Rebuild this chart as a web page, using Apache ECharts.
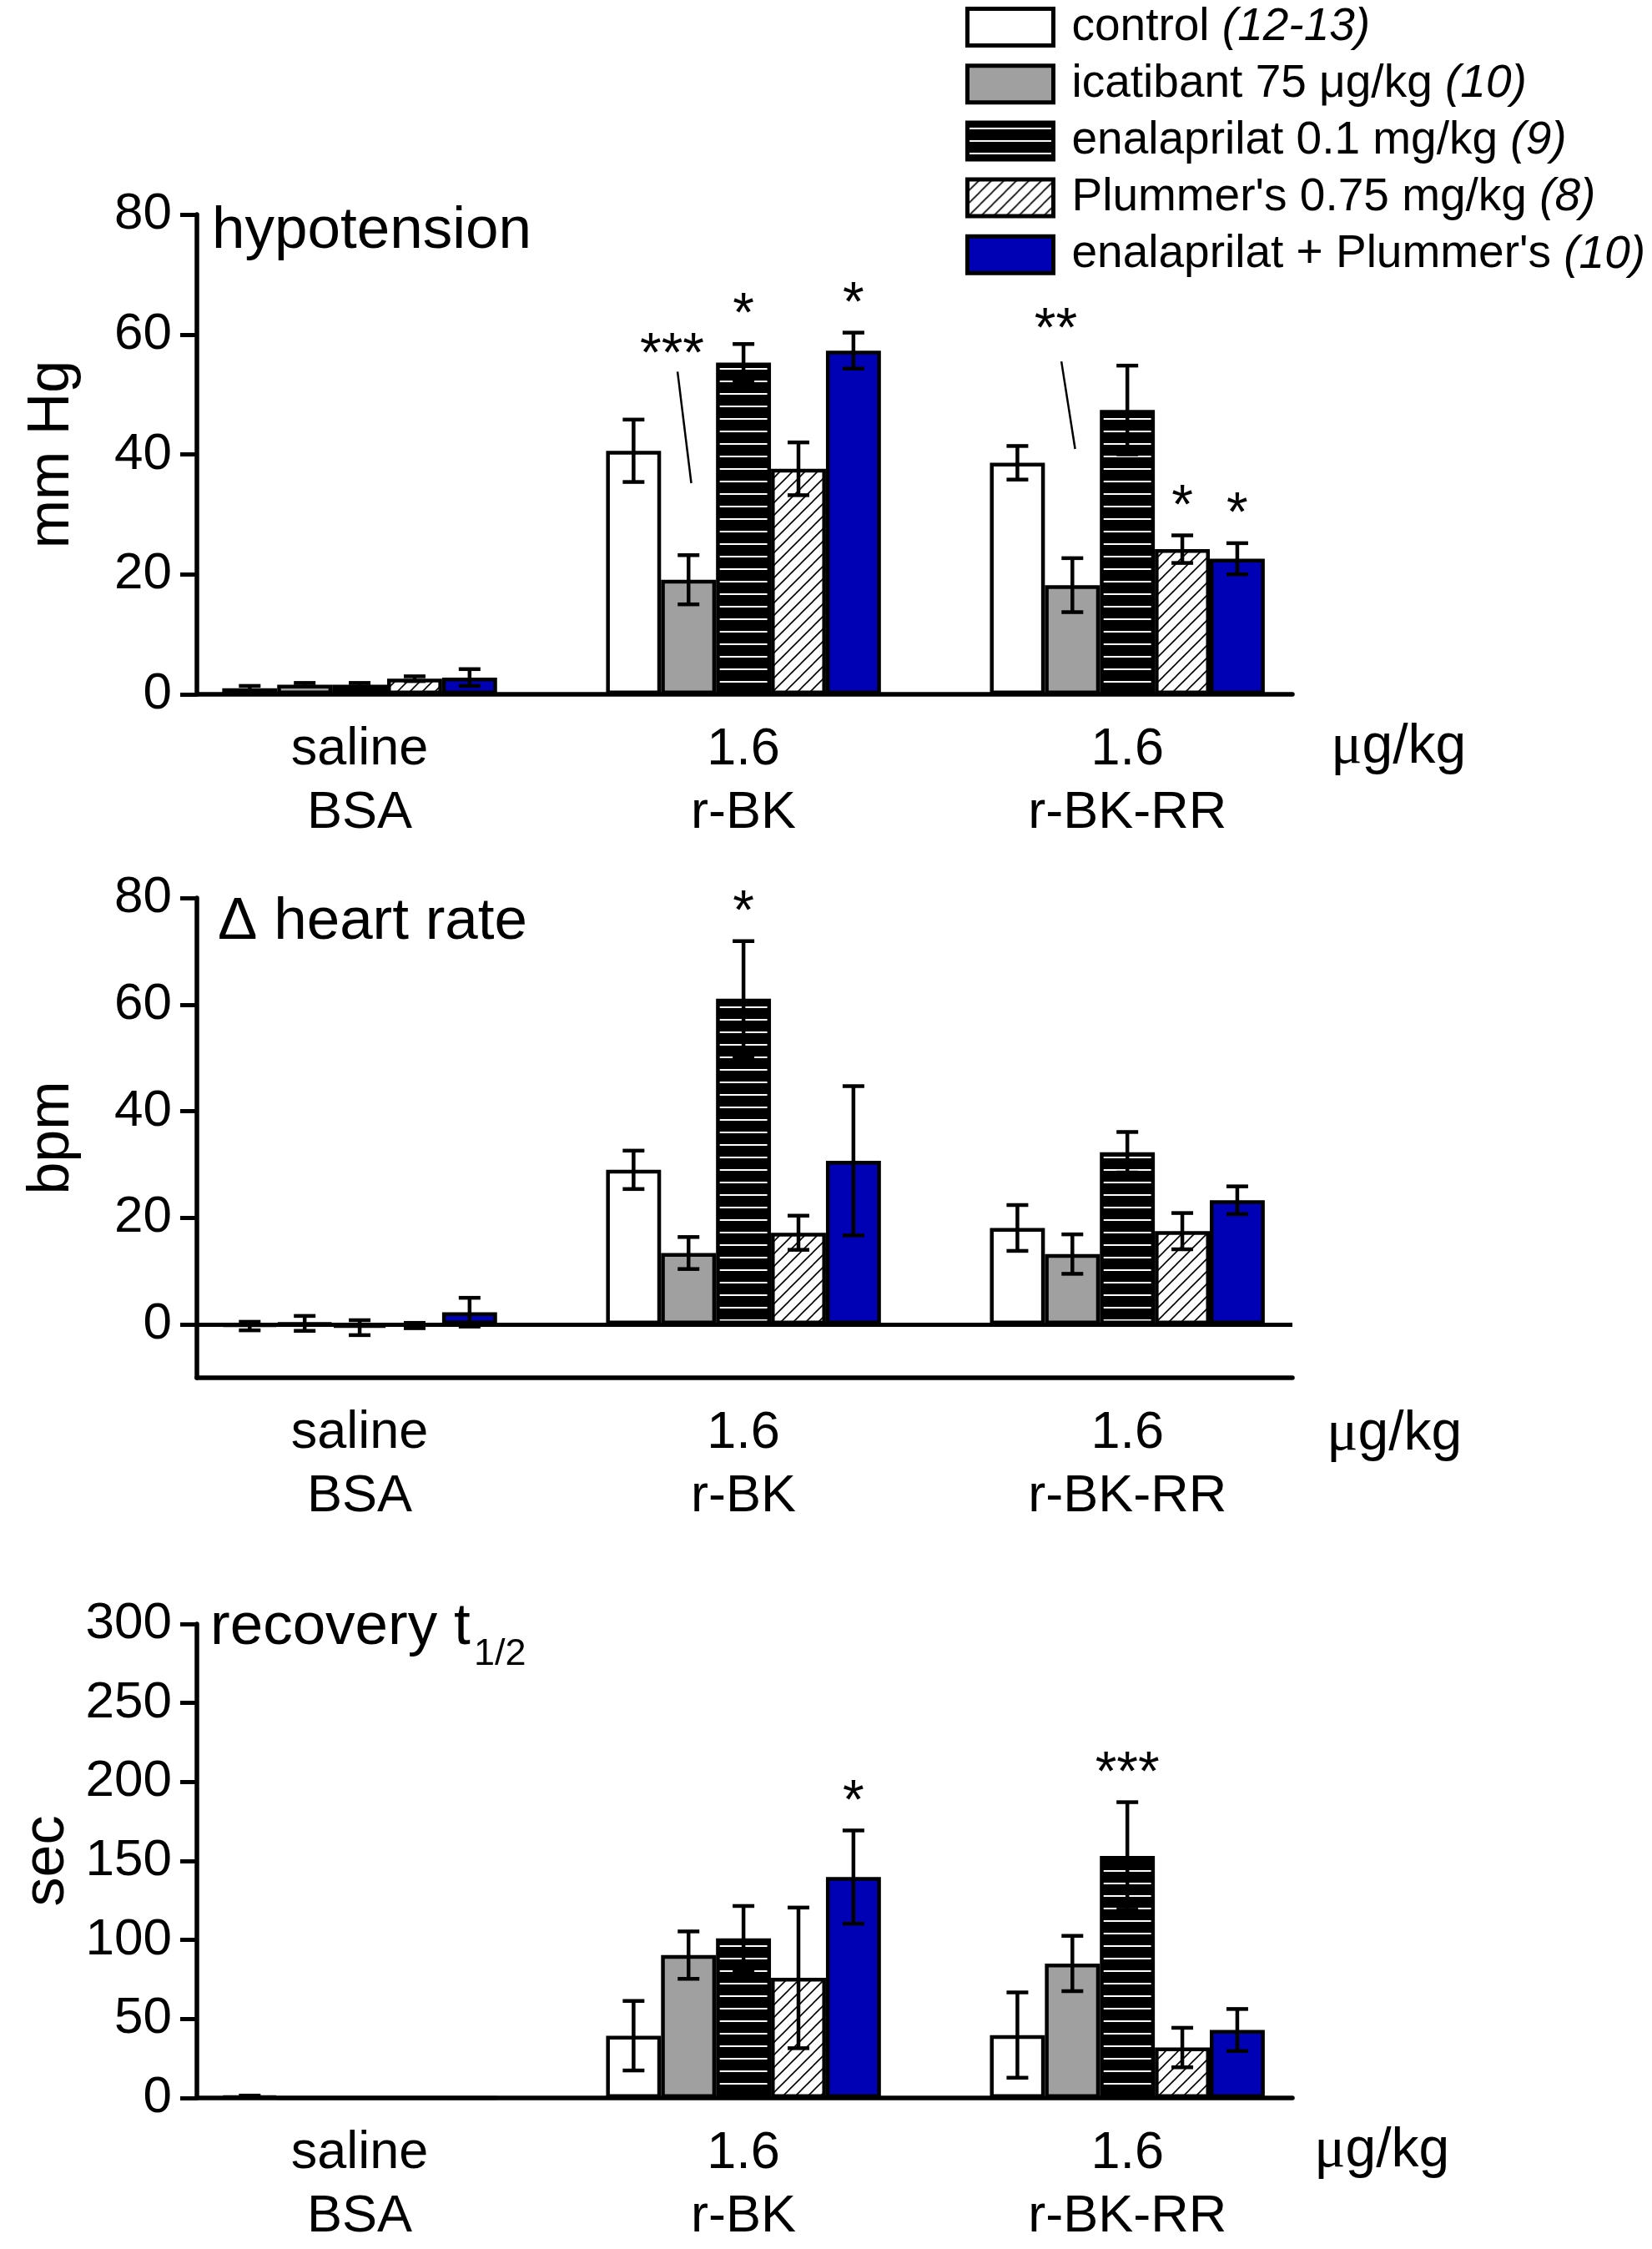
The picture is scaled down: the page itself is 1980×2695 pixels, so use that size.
<!DOCTYPE html>
<html>
<head>
<meta charset="utf-8">
<script src="https://cdn.jsdelivr.net/npm/echarts@6/dist/echarts.min.js"></script>
<style>
  html, body { margin: 0; padding: 0; background: #fff; }
  #main { width: 1980px; height: 2695px; }
</style>
</head>
<body>
<div id="main"></div>
<script>
    var doses = ['saline', '1.6', '1.6'];
    var agents = ['BSA', 'r-BK', 'r-BK-RR'];
    var treatments = ['control', 'icatibant 75 μg/kg', 'enalaprilat 0.1 mg/kg', "Plummer's 0.75 mg/kg", "enalaprilat + Plummer's"];
    var counts = ['(12-13)', '(10)', '(9)', '(8)', '(10)'];

    // one row per treatment: [saline/BSA, r-BK, r-BK-RR]
    var hypoMean = [[1.0, 40.6, 38.6], [1.6, 19.1, 18.2], [1.6, 55.3, 47.4], [2.6, 37.6, 24.2], [2.8, 57.3, 22.6]];
    var hypoSem  = [[0.4, 5.2, 2.8], [0.3, 4.1, 4.5], [0.3, 3.1, 7.4], [0.4, 4.4, 2.3], [1.4, 3.0, 2.6]];
    var hrMean   = [[-0.3, 29.0, 18.1], [0.2, 13.4, 13.2], [-0.6, 61.1, 32.3], [-0.2, 17.2, 17.5], [2.3, 30.7, 23.3]];
    var hrSem    = [[0.8, 3.6, 4.3], [1.4, 3.0, 3.7], [1.4, 10.8, 3.8], [0.5, 3.2, 3.4], [2.7, 14.0, 2.6]];
    var recMean  = [[1.0, 39.4, 39.8], [0, 90.4, 85.1], [0, 101.0, 153.2], [0, 76.0, 31.9], [0, 139.8, 43.0]];
    var recSem   = [[0.5, 22.0, 27.0], [0, 15.0, 17.5], [0, 20.5, 34.0], [0, 44.5, 12.5], [0, 29.5, 13.3]];

    // stars: [group, treatment, text]
    var hypoStars = [[1, 2, '*'], [1, 4, '*'], [2, 3, '*'], [2, 4, '*']];
    // stars joined to a bar by a line: [group, treatment, text, star y, line top y, line bottom y]
    var hypoLinked = [[1, 1, '***', 58.4, 53.8, 35.2], [2, 1, '**', 62.6, 55.5, 40.9]];
    var hrStars = [[1, 2, '*']];
    var recStars = [[1, 4, '*'], [2, 2, '***']];

    var FONT = "'Liberation Sans', Arial, sans-serif";
    var GAP = 0.284;

    function stripes() {
        var c = document.createElement('canvas');
        c.width = 8; c.height = 15;
        var x = c.getContext('2d');
        x.fillStyle = '#000'; x.fillRect(0, 0, 8, 15);
        x.fillStyle = '#fff'; x.fillRect(0, 6, 8, 2);
        return c;
    }
    function hatch() {
        var n = 15;
        var c = document.createElement('canvas');
        c.width = n; c.height = n;
        var x = c.getContext('2d');
        x.fillStyle = '#fff'; x.fillRect(0, 0, n, n);
        x.strokeStyle = '#000'; x.lineWidth = 1.6;
        x.beginPath();
        x.moveTo(0, n); x.lineTo(n, 0);
        x.moveTo(-n / 2, n / 2); x.lineTo(n / 2, -n / 2);
        x.moveTo(n / 2, n * 1.5); x.lineTo(n * 1.5, n / 2);
        x.stroke();
        return c;
    }
    var fills = ['#ffffff', '#a0a0a0', { image: stripes(), repeat: 'repeat' }, { image: hatch(), repeat: 'repeat' }, '#0000b4'];

    var panels = [
        { mean: hypoMean, sem: hypoSem, stars: hypoStars, linked: hypoLinked, top: 257, h: 575,
          min: 0, max: 80, interval: 20, name: 'mm Hg', title: 'hypotension', tleft: 254, ttop: 242, unitGap: 46, unitPad: 128 },
        { mean: hrMean, sem: hrSem, stars: hrStars, linked: [], top: 1076, h: 575,
          min: -10, max: 80, ticks: [0, 20, 40, 60, 80], name: 'bpm', title: 'Δ heart rate', tleft: 261, ttop: 1070, unitGap: 41, unitPad: 136 },
        { mean: recMean, sem: recSem, stars: recStars, linked: [], top: 1946, h: 577,
          min: 0, max: 300, interval: 50, name: 'sec', title: 'recovery t', sub: '1/2', tleft: 252, ttop: 1915, unitGap: 26, unitPad: 128 }
    ];

    function barWidthPx(api) {
        return api.size([1, 0])[0] * (1 - GAP) / 5;
    }

    function errorItem(params, api) {
        var g = api.value(0), m = api.value(1), e = api.value(2), s = api.value(3);
        if (!e) return;
        var bw = barWidthPx(api);
        var cx = api.coord([g, m])[0] + (s - 2) * bw;
        var yHi = api.coord([g, m + e])[1];
        var yLo = api.coord([g, m - e])[1];
        var cap = 13;
        var st = { stroke: '#000', lineWidth: 4.5 };
        return {
            type: 'group',
            children: [
                { type: 'line', shape: { x1: cx, y1: yHi, x2: cx, y2: yLo }, style: st },
                { type: 'line', shape: { x1: cx - cap, y1: yHi, x2: cx + cap, y2: yHi }, style: st },
                { type: 'line', shape: { x1: cx - cap, y1: yLo, x2: cx + cap, y2: yLo }, style: st }
            ]
        };
    }

    function starRenderer(stars) {
        return function (params, api) {
            var r = stars[params.dataIndex];
            var bw = barWidthPx(api);
            var p = api.coord([api.value(0), api.value(1)]);
            return {
                type: 'text',
                x: p[0] + (r[1] - 2) * bw,
                y: p[1],
                style: { text: r[2], fontSize: 66, fontFamily: FONT, fill: '#000', align: 'center', verticalAlign: 'bottom' }
            };
        };
    }

    function linkedRenderer(linked) {
        return function (params, api) {
            var r = linked[params.dataIndex];
            var bw = barWidthPx(api);
            var cx = api.coord([r[0], 0])[0] + (r[1] - 2) * bw;
            var yText = api.coord([r[0], r[3]])[1];
            var yTop = api.coord([r[0], r[4]])[1];
            var yBot = api.coord([r[0], r[5]])[1];
            return {
                type: 'group',
                children: [
                    { type: 'line', shape: { x1: cx - 0.2 * bw, y1: yTop, x2: cx + 0.05 * bw, y2: yBot }, style: { stroke: '#000', lineWidth: 2.5 } },
                    { type: 'text', x: cx - 0.3 * bw, y: yText + 15,
                      style: { text: r[2], fontSize: 66, fontFamily: FONT, fill: '#000', align: 'center', verticalAlign: 'middle' } }
                ]
            };
        };
    }

    var grid = [], xAxis = [], yAxis = [], series = [], title = [];

    panels.forEach(function (pn, p) {
        grid.push({ left: 236, width: 1313, top: pn.top, height: pn.h });
        title.push({
            text: pn.title, left: pn.tleft, top: pn.ttop, padding: 0,
            textStyle: { fontSize: 71, lineHeight: 71, fontWeight: 'normal', fontFamily: FONT, color: '#000' }
        });
        if (pn.sub) {
            title.push({
                text: pn.sub, left: 568, top: pn.ttop + 45, padding: 0,
                textStyle: { fontSize: 45, lineHeight: 45, fontWeight: 'normal', fontFamily: FONT, color: '#000' }
            });
        }
        xAxis.push({
            type: 'value', gridIndex: p, min: -0.424, max: 2.43,
            axisLine: { onZero: false, lineStyle: { color: '#000', width: 5.5 } },
            axisTick: { show: false },
            splitLine: { show: false },
            axisLabel: {
                customValues: [0, 1, 2],
                margin: 29,
                fontSize: 63, fontFamily: FONT, color: '#000', lineHeight: 76,
                formatter: function (v) { return doses[v] + '\n' + agents[v]; }
            },
            name: '{mu|μ}g/kg', nameLocation: 'end', nameGap: pn.unitGap,
            nameTextStyle: {
                fontSize: 66, fontFamily: FONT, color: '#000', align: 'left', verticalAlign: 'middle',
                padding: [pn.unitPad, 0, 0, 0],
                rich: { mu: { fontSize: 70, fontFamily: "'Liberation Serif', serif", color: '#000' } }
            }
        });
        var ya = {
            type: 'value', gridIndex: p, min: pn.min, max: pn.max,
            axisLine: { show: true, onZero: false, lineStyle: { color: '#000', width: 5.5 } },
            axisTick: { show: true, length: 20, lineStyle: { color: '#000', width: 5 } },
            splitLine: { show: false },
            axisLabel: { margin: 30, fontSize: 62, fontFamily: FONT, color: '#000' },
            name: pn.name, nameLocation: 'middle', nameGap: 138,
            nameTextStyle: { fontSize: 70, fontFamily: FONT, color: '#000' }
        };
        if (pn.ticks) {
            ya.axisLabel.customValues = pn.ticks;
            ya.axisTick.customValues = pn.ticks;
        } else {
            ya.interval = pn.interval;
        }
        yAxis.push(ya);

        treatments.forEach(function (name, t) {
            var s = {
                name: name, type: 'bar', xAxisIndex: p, yAxisIndex: p,
                barGap: '0%', barCategoryGap: (GAP * 100) + '%',
                data: [0, 1, 2].map(function (g) { return [g, pn.mean[t][g]]; }),
                itemStyle: { color: fills[t], borderColor: '#000', borderWidth: 4.5 },
                emphasis: { disabled: true }
            };
            if (p === 1 && t === 4) {
                s.markLine = {
                    silent: true, symbol: ['none', 'none'],
                    label: { show: false },
                    lineStyle: { color: '#000', width: 5, type: 'solid' },
                    data: [{ yAxis: 0 }]
                };
            }
            series.push(s);
        });

        var err = [];
        treatments.forEach(function (name, t) {
            [0, 1, 2].forEach(function (g) { err.push([g, pn.mean[t][g], pn.sem[t][g], t]); });
        });
        series.push({
            type: 'custom', xAxisIndex: p, yAxisIndex: p, z: 5,
            renderItem: errorItem, data: err, encode: { x: 0, y: 1 }, silent: true
        });
        series.push({
            type: 'custom', xAxisIndex: p, yAxisIndex: p, z: 6,
            renderItem: starRenderer(pn.stars), silent: true, encode: { x: 0, y: 1 },
            data: pn.stars.map(function (r) { return [r[0], pn.mean[r[1]][r[0]] + pn.sem[r[1]][r[0]]]; })
        });
        if (pn.linked.length) {
            series.push({
                type: 'custom', xAxisIndex: p, yAxisIndex: p, z: 6,
                renderItem: linkedRenderer(pn.linked), silent: true, encode: { x: 0, y: 1 },
                data: pn.linked.map(function (r) { return [r[0], r[3]]; })
            });
        }
    });

    var myChart = echarts.init(document.getElementById('main'));
    myChart.setOption({
        backgroundColor: '#fff',
        animation: false,
        title: title,
        legend: {
            data: treatments, orient: 'vertical', left: 1157, top: 5, padding: 0,
            itemWidth: 103, itemHeight: 44, itemGap: 13.2, icon: 'rect', selectedMode: false,
            itemStyle: { borderColor: '#000', borderWidth: 5 },
            formatter: function (name) {
                return '{g|}{n|' + name + ' }{i|' + counts[treatments.indexOf(name)] + '}';
            },
            textStyle: {
                fontSize: 55, lineHeight: 44, fontFamily: FONT, color: '#000',
                rich: {
                    g: { width: 17, lineHeight: 44 },
                    n: { fontSize: 55, fontFamily: FONT, color: '#000', lineHeight: 44 },
                    i: { fontSize: 55, fontFamily: FONT, color: '#000', lineHeight: 44, fontStyle: 'italic' }
                }
            }
        },
        grid: grid,
        xAxis: xAxis,
        yAxis: yAxis,
        series: series
    });
</script>
</body>
</html>
